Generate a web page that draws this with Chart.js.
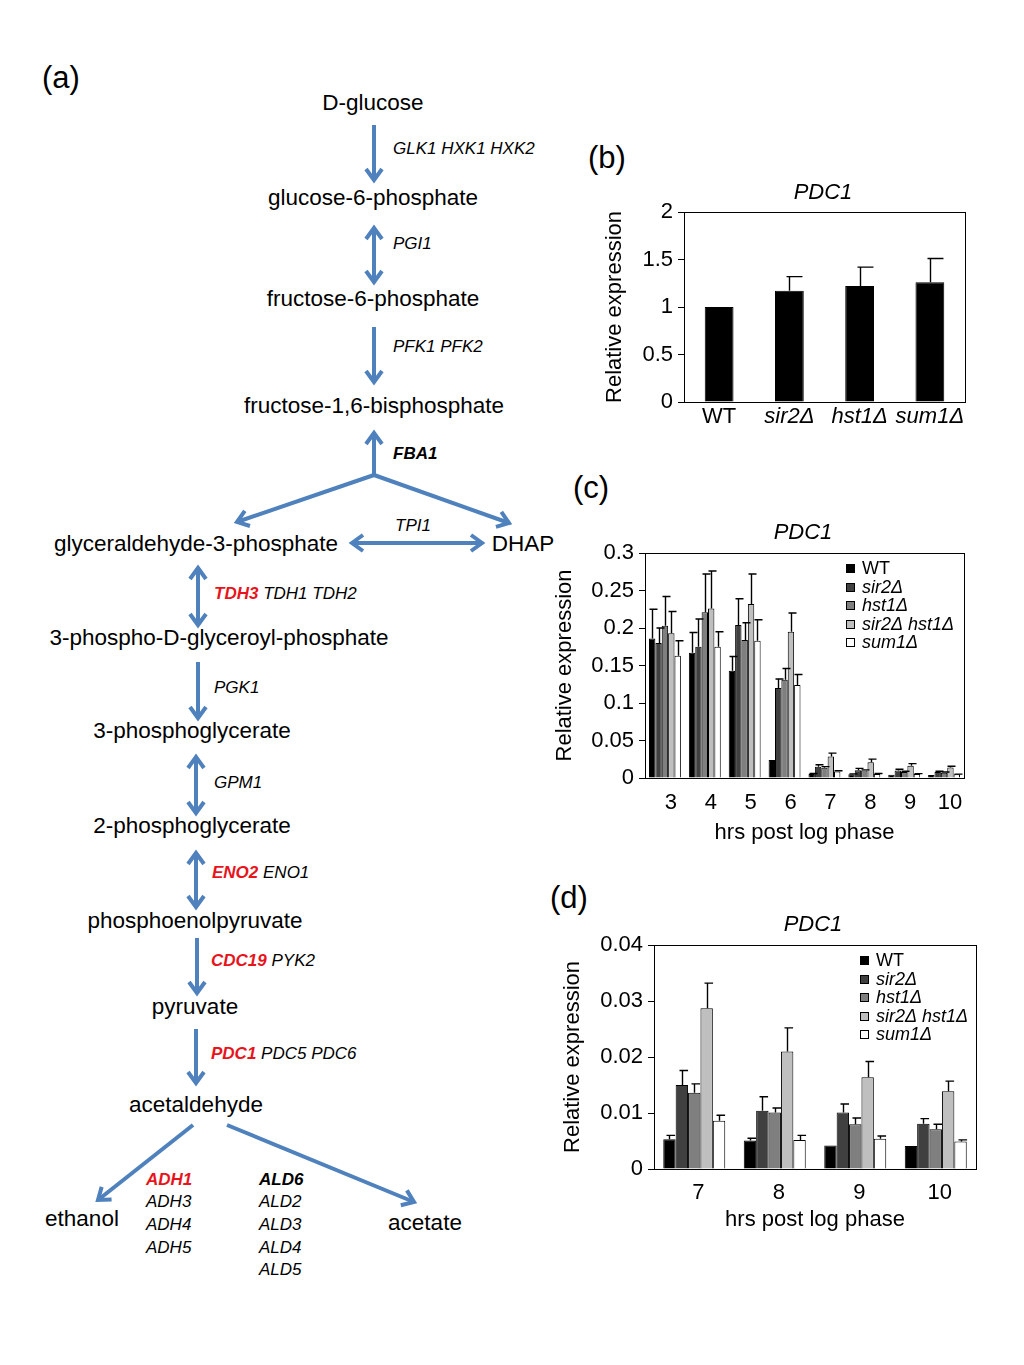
<!DOCTYPE html>
<html>
<head>
<meta charset="utf-8">
<script src="https://cdn.jsdelivr.net/npm/chart.js@4.4.1/dist/chart.umd.min.js"></script>
<style>
html, body { margin: 0; padding: 0; width: 1024px; height: 1365px; overflow: hidden; background: #fff; }
#art { position: absolute; left: 0; top: 0; }
canvas { position: absolute; }
</style>
</head>
<body>
<svg id="art" width="1024" height="1365" xmlns="http://www.w3.org/2000/svg"></svg>
<canvas id="chartB" width="486" height="275" style="left:580px;top:170px"></canvas>
<canvas id="chartC" width="506" height="341" style="left:550px;top:505px"></canvas>
<canvas id="chartD" width="526" height="333" style="left:550px;top:900px"></canvas>
<script>
// ---- data ----
var strainsB = ['WT', 'sir2Δ', 'hst1Δ', 'sum1Δ'];
var valuesB = [1.0, 1.17, 1.22, 1.26];
var errorsB = [0, 0.15, 0.20, 0.25];

var seriesNames = ['WT', 'sir2Δ', 'hst1Δ', 'sir2Δ hst1Δ', 'sum1Δ'];

var hoursC = ['3', '4', '5', '6', '7', '8', '9', '10'];
var wtC = [0.186, 0.167, 0.143, 0.024, 0.0053, 0.0051, 0.0042, 0.0041];
var wtErrC = [0.039, 0.027, 0.019, 0, 0.0007, 0.0004, 0, 0];
var sir2C = [0.180, 0.175, 0.204, 0.120, 0.0150, 0.0104, 0.0101, 0.0081];
var sir2ErrC = [0.020, 0.037, 0.035, 0.012, 0.0026, 0.0025, 0.0015, 0.0009];
var hst1C = [0.203, 0.221, 0.184, 0.131, 0.0136, 0.0101, 0.0080, 0.0071];
var hst1ErrC = [0.039, 0.051, 0.023, 0.015, 0.0016, 0.0008, 0.0011, 0.0009];
var sir2hst1C = [0.193, 0.226, 0.232, 0.195, 0.0287, 0.0210, 0.0164, 0.0139];
var sir2hst1ErrC = [0.029, 0.050, 0.040, 0.025, 0.0045, 0.0042, 0.0028, 0.0018];
var sum1C = [0.163, 0.175, 0.183, 0.124, 0.0086, 0.0052, 0.0054, 0.0049];
var sum1ErrC = [0.020, 0.020, 0.028, 0.014, 0.0010, 0.0008, 0.0005, 0.0003];

// panel (d) is the late time points (7-10 h) of the same series
var hoursD = hoursC.slice(4);

var FONT = '"Liberation Sans", Arial, Helvetica, sans-serif';
var greys = ['#000000', '#404040', '#7f7f7f', '#bfbfbf', '#ffffff'];

// ---- pathway diagram (a) ----
var svg = document.getElementById('art');
var NS = 'http://www.w3.org/2000/svg';
var BLUE = '#4f81bd';
var RED = '#e8141c';

function addText(x, y, parts, size, anchor) {
  var t = document.createElementNS(NS, 'text');
  t.setAttribute('x', x);
  t.setAttribute('y', y);
  t.setAttribute('font-family', FONT);
  t.setAttribute('font-size', size);
  t.setAttribute('text-anchor', anchor || 'middle');
  t.setAttribute('dominant-baseline', 'central');
  parts.forEach(function (p) {
    var s = document.createElementNS(NS, 'tspan');
    s.textContent = p.t;
    if (p.i) s.setAttribute('font-style', 'italic');
    if (p.b) s.setAttribute('font-weight', 'bold');
    s.setAttribute('fill', p.c || '#000');
    t.appendChild(s);
  });
  svg.appendChild(t);
}

function head(x1, y1, x2, y2) {
  var dx = x2 - x1, dy = y2 - y1, len = Math.sqrt(dx * dx + dy * dy);
  var ux = dx / len, uy = dy / len, px = -uy, py = ux;
  var bx = x2 - ux * 11, by = y2 - uy * 11;
  var p = document.createElementNS(NS, 'polyline');
  p.setAttribute('points', (bx + px * 8) + ',' + (by + py * 8) + ' ' + x2 + ',' + y2 + ' ' + (bx - px * 8) + ',' + (by - py * 8));
  p.setAttribute('fill', 'none');
  p.setAttribute('stroke', BLUE);
  p.setAttribute('stroke-width', 4);
  p.setAttribute('stroke-linejoin', 'miter');
  svg.appendChild(p);
}

function arrow(x1, y1, x2, y2, both) {
  var l = document.createElementNS(NS, 'line');
  l.setAttribute('x1', x1); l.setAttribute('y1', y1);
  l.setAttribute('x2', x2); l.setAttribute('y2', y2);
  l.setAttribute('stroke', BLUE);
  l.setAttribute('stroke-width', 4);
  svg.appendChild(l);
  head(x1, y1, x2, y2);
  if (both) head(x2, y2, x1, y1);
}

// panel letters
addText(42, 77, [{t: '(a)'}], 31, 'start');
addText(588, 157, [{t: '(b)'}], 31, 'start');
addText(573, 487, [{t: '(c)'}], 31, 'start');
addText(550, 897, [{t: '(d)'}], 31, 'start');

// metabolites
var M = 22.5;
addText(373, 102, [{t: 'D-glucose'}], M);
addText(373, 197, [{t: 'glucose-6-phosphate'}], M);
addText(373, 298, [{t: 'fructose-6-phosphate'}], M);
addText(374, 405, [{t: 'fructose-1,6-bisphosphate'}], M);
addText(196, 543, [{t: 'glyceraldehyde-3-phosphate'}], M);
addText(523, 543, [{t: 'DHAP'}], M);
addText(219, 637, [{t: '3-phospho-D-glyceroyl-phosphate'}], M);
addText(192, 730, [{t: '3-phosphoglycerate'}], M);
addText(192, 825, [{t: '2-phosphoglycerate'}], M);
addText(195, 920, [{t: 'phosphoenolpyruvate'}], M);
addText(195, 1006, [{t: 'pyruvate'}], M);
addText(196, 1104, [{t: 'acetaldehyde'}], M);
addText(82, 1218, [{t: 'ethanol'}], M);
addText(425, 1222, [{t: 'acetate'}], M);

// genes
var G = 17;
addText(393, 148, [{t: 'GLK1 HXK1 HXK2', i: 1}], G, 'start');
addText(393, 243, [{t: 'PGI1', i: 1}], G, 'start');
addText(393, 346, [{t: 'PFK1 PFK2', i: 1}], G, 'start');
addText(393, 453, [{t: 'FBA1', i: 1, b: 1}], G, 'start');
addText(413, 525, [{t: 'TPI1', i: 1}], G);
addText(214, 593, [{t: 'TDH3', i: 1, b: 1, c: RED}, {t: ' TDH1 TDH2', i: 1}], G, 'start');
addText(214, 687, [{t: 'PGK1', i: 1}], G, 'start');
addText(214, 782, [{t: 'GPM1', i: 1}], G, 'start');
addText(212, 872, [{t: 'ENO2', i: 1, b: 1, c: RED}, {t: ' ENO1', i: 1}], G, 'start');
addText(211, 960, [{t: 'CDC19', i: 1, b: 1, c: RED}, {t: ' PYK2', i: 1}], G, 'start');
addText(211, 1053, [{t: 'PDC1', i: 1, b: 1, c: RED}, {t: ' PDC5 PDC6', i: 1}], G, 'start');
addText(146, 1179, [{t: 'ADH1', i: 1, b: 1, c: RED}], G, 'start');
addText(146, 1201, [{t: 'ADH3', i: 1}], G, 'start');
addText(146, 1224, [{t: 'ADH4', i: 1}], G, 'start');
addText(146, 1247, [{t: 'ADH5', i: 1}], G, 'start');
addText(259, 1179, [{t: 'ALD6', i: 1, b: 1}], G, 'start');
addText(259, 1201, [{t: 'ALD2', i: 1}], G, 'start');
addText(259, 1224, [{t: 'ALD3', i: 1}], G, 'start');
addText(259, 1247, [{t: 'ALD4', i: 1}], G, 'start');
addText(259, 1269, [{t: 'ALD5', i: 1}], G, 'start');

// arrows
arrow(374, 125, 374, 180);
arrow(374, 228, 374, 282, true);
arrow(374, 327, 374, 382);
arrow(374, 475, 374, 433);
arrow(374, 475, 237, 522);
arrow(374, 475, 509, 523);
arrow(352, 543, 482, 543, true);
arrow(198, 568, 198, 625, true);
arrow(198, 662, 198, 718);
arrow(196, 757, 196, 813, true);
arrow(196, 853, 196, 907, true);
arrow(197, 938, 197, 993);
arrow(196, 1029, 196, 1083);
arrow(193, 1125, 98, 1200);
arrow(227, 1125, 414, 1202);

// ---- chart plugins ----
var errorBars = {
  id: 'errorBars',
  afterDatasetsDraw: function (chart) {
    var ctx = chart.ctx, y = chart.scales.y;
    chart.data.datasets.forEach(function (ds, i) {
      var meta = chart.getDatasetMeta(i);
      meta.data.forEach(function (bar, j) {
        var err = ds.errors[j];
        if (!err) return;
        var top = y.getPixelForValue(ds.data[j] + err);
        var cx = Math.round(bar.x) + 0.5;
        var right = Math.max(5, bar.width * 0.45);
        ctx.save();
        ctx.strokeStyle = '#000';
        ctx.lineWidth = 1.4;
        ctx.beginPath();
        ctx.moveTo(cx, bar.y);
        ctx.lineTo(cx, top);
        ctx.moveTo(cx - 3, top);
        ctx.lineTo(cx + right, top);
        ctx.stroke();
        ctx.restore();
      });
    });
  }
};

var plotBox = {
  id: 'plotBox',
  afterDraw: function (chart) {
    var a = chart.chartArea, ctx = chart.ctx;
    ctx.save();
    ctx.strokeStyle = '#000';
    ctx.lineWidth = 1;
    ctx.strokeRect(Math.round(a.left) + 0.5, Math.round(a.top) + 0.5, Math.round(a.right - a.left), Math.round(a.bottom - a.top));
    ctx.restore();
  }
};

var insideLegend = {
  id: 'insideLegend',
  afterDraw: function (chart, args, opts) {
    if (!opts || opts.x === undefined) return;
    var ctx = chart.ctx, a = chart.chartArea;
    chart.data.datasets.forEach(function (ds, i) {
      var x = Math.round(a.left + opts.x), y = Math.round(a.top + opts.y + i * opts.row);
      ctx.save();
      ctx.fillStyle = ds.backgroundColor;
      ctx.fillRect(x, y - 4, 9, 9);
      ctx.strokeStyle = '#000';
      ctx.lineWidth = 1;
      ctx.strokeRect(x + 0.5, y - 3.5, 8, 8);
      ctx.fillStyle = '#000';
      ctx.font = (ds.label === 'WT' ? '' : 'italic ') + '18px ' + FONT;
      ctx.textBaseline = 'middle';
      ctx.fillText(ds.label, x + 16, y + 1);
      ctx.restore();
    });
  }
};

function italicUnlessWT(ctx) {
  var lbl = ctx.chart.data.labels[ctx.index];
  return { family: FONT, size: 22, style: lbl === 'WT' ? 'normal' : 'italic' };
}

function plainNumber(v) {
  return String(Math.round(v * 1000) / 1000);
}

function makeOptions(cfg) {
  return {
    responsive: false,
    animation: false,
    layout: { padding: 0 },
    plugins: {
      legend: { display: false },
      tooltip: { enabled: false },
      title: {
        display: true, text: 'PDC1', color: '#000',
        font: { family: FONT, size: 22, style: 'italic', weight: 'normal' },
        padding: { top: cfg.titleTop, bottom: cfg.titleBottom }
      },
      insideLegend: cfg.legend || {}
    },
    scales: {
      x: {
        offset: true,
        grid: { display: false, drawTicks: false },
        border: { display: false },
        ticks: {
          color: '#000', padding: cfg.xPad, labelOffset: cfg.labelOffset || 0,
          maxRotation: 0, autoSkip: false,
          font: cfg.xFont || { family: FONT, size: 22 }
        },
        title: {
          display: !!cfg.xTitle, text: cfg.xTitle || '', color: '#000',
          font: { family: FONT, size: 22 }, padding: 0
        },
        afterFit: function (s) {
          s.height = cfg.xHeight;
          s.paddingRight = cfg.padRight;
          s.paddingLeft = 0;
        }
      },
      y: {
        min: 0, max: cfg.max,
        ticks: { stepSize: cfg.step, color: '#000', padding: 5, font: { family: FONT, size: 22 }, callback: plainNumber },
        grid: { drawOnChartArea: false, drawTicks: true, tickLength: 6, color: '#000' },
        border: { display: true, color: '#000' },
        title: {
          display: true, text: 'Relative expression', color: '#000',
          font: { family: FONT, size: 22 }, padding: { top: cfg.yTitlePad, bottom: 0 }
        },
        afterFit: function (s) { s.width = cfg.yWidth; }
      }
    }
  };
}

function seriesSets(lists, errs, from) {
  return seriesNames.map(function (name, k) {
    return {
      label: name,
      data: lists[k].slice(from),
      errors: errs[k].slice(from),
      backgroundColor: greys[k],
      borderColor: '#000',
      borderWidth: 1,
      categoryPercentage: 0.8,
      barPercentage: 1.0
    };
  });
}

var valueLists = [wtC, sir2C, hst1C, sir2hst1C, sum1C];
var errorLists = [wtErrC, sir2ErrC, hst1ErrC, sir2hst1ErrC, sum1ErrC];

// (b)
new Chart(document.getElementById('chartB').getContext('2d'), {
  type: 'bar',
  data: {
    labels: strainsB,
    datasets: [{
      label: 'PDC1', data: valuesB, errors: errorsB,
      backgroundColor: '#000', borderColor: '#000', borderWidth: 1,
      categoryPercentage: 0.41, barPercentage: 1.0
    }]
  },
  options: makeOptions({
    titleTop: 9.8, titleBottom: 5.8, xPad: 2, xHeight: 43, padRight: 101,
    yWidth: 104, yTitlePad: 21.8, max: 2, step: 0.5, legend: null,
    xFont: italicUnlessWT
  }),
  plugins: [errorBars, plotBox, insideLegend]
});

// (c)
new Chart(document.getElementById('chartC').getContext('2d'), {
  type: 'bar',
  data: { labels: hoursC, datasets: seriesSets(valueLists, errorLists, 0) },
  options: makeOptions({
    titleTop: 14.8, titleBottom: 6.8, xPad: 11.8, xHeight: 68, padRight: 92,
    yWidth: 95, yTitlePad: 1.8, max: 0.3, step: 0.05, labelOffset: 6,
    xTitle: 'hrs post log phase',
    legend: { x: 201, y: 15, row: 18.5 }
  }),
  plugins: [errorBars, plotBox, insideLegend]
});

// (d)
var setsD = seriesSets(valueLists, errorLists, 4);
setsD.forEach(function (d) { d.categoryPercentage = 0.77; });
new Chart(document.getElementById('chartD').getContext('2d'), {
  type: 'bar',
  data: { labels: hoursD, datasets: setsD },
  options: makeOptions({
    titleTop: 11.8, titleBottom: 6.8, xPad: 10.8, xHeight: 64, padRight: 100,
    yWidth: 104, yTitlePad: 9.8, max: 0.04, step: 0.01, labelOffset: 4,
    xTitle: 'hrs post log phase',
    legend: { x: 206, y: 15, row: 18.5 }
  }),
  plugins: [errorBars, plotBox, insideLegend]
});
</script>
</body>
</html>
